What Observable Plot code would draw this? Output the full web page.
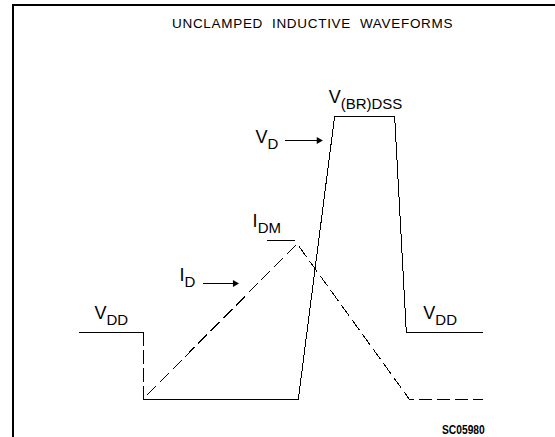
<!DOCTYPE html>
<html><head><meta charset="utf-8">
<script src="https://cdn.jsdelivr.net/npm/d3@7"></script>
<script src="https://cdn.jsdelivr.net/npm/@observablehq/plot@0.6"></script>
<style>
body{margin:0;background:#fff;}
#wrap{position:relative;width:555px;height:437px;overflow:hidden;font-family:"Liberation Sans",Arial,sans-serif;color:#000;}
#frame{position:absolute;left:12px;top:4px;width:700px;height:600px;border-top:2px solid #000;border-left:2px solid #000;}
#title{position:absolute;left:172px;top:16.8px;font-size:13.5px;line-height:13.5px;letter-spacing:0.7px;white-space:pre;}
#code{position:absolute;left:442px;top:424px;font-size:12.5px;line-height:12.5px;font-weight:bold;transform:scaleX(0.82);transform-origin:0 0;white-space:pre;}
#chart{position:absolute;left:0;top:0;}
</style>
</head><body>
<div id="wrap">
  <div id="frame"></div>
  <div id="chart"></div>
  <div id="title">UNCLAMPED  INDUCTIVE  WAVEFORMS</div>
  <div id="code">SC05980</div>
</div>
<script>
// V_D waveform (time in arbitrary units 0..100, level 0..100 = V(BR)DSS)
const vdTime  = [0, 15.9, 15.9, 54.3, 63.3, 78.2, 81.1, 100];
const vdLevel = [23.7, 23.7, 0, 0, 100, 100, 23.7, 23.7];
// I_D waveform (dashed)
const idTime  = [16.9, 54.0, 81.9, 100];
const idLevel = [1.8, 55.0, 0, 0];
// I_DM marker line
const idmLevel = [56.2];
const idmFrom = [46.65];
const idmTo = [53.6];
// labels
const labelMain  = ["V", "V", "V", "V", "I", "I"];
const labelSub   = ["DD", "DD", "D", "(BR)DSS", "DM", "D"];
const labelTime  = [6.7, 88.3, 46.65, 64.8, 44.2, 26.05];
const labelLevel = [28.6, 28.6, 90.5, 104.6, 61.1, 41.7];
// arrows
const arrowFrom  = [51.1, 30.8];
const arrowTo    = [60.0, 39.2];
const arrowLevel = [91.5, 41.0];

const vd = vdTime.map((t, i) => ({t, v: vdLevel[i]}));
const id = idTime.map((t, i) => ({t, v: idLevel[i]}));
const labels = labelMain.map((m, i) => ({main: m, sub: labelSub[i], t: labelTime[i], v: labelLevel[i]}));
const arrows = arrowFrom.map((a, i) => ({t1: a, t2: arrowTo[i], v: arrowLevel[i]}));
const idm = idmLevel.map((v, i) => ({v, t1: idmFrom[i], t2: idmTo[i]}));

const crisp = {stroke: "#000", strokeWidth: 1, shapeRendering: "crispEdges"};

const chart = Plot.plot({
  width: 555,
  height: 437,
  marginLeft: 79,
  marginRight: 73,
  marginTop: 116,
  marginBottom: 38,
  x: {domain: [0, 100], axis: null},
  y: {domain: [0, 100], axis: null},
  style: {fontFamily: "Liberation Sans, Arial, sans-serif", background: "transparent", color: "#000"},
  marks: [
    Plot.line(vd.slice(0, 2), {x: "t", y: "v", ...crisp}),
    Plot.line(vd.slice(1, 3), {x: "t", y: "v", ...crisp, strokeDasharray: "13,5"}),
    Plot.line(vd.slice(2), {x: "t", y: "v", ...crisp}),
    Plot.line(id, {x: "t", y: "v", ...crisp, strokeDasharray: "12,6"}),
    Plot.ruleY(idm, {y: "v", x1: "t1", x2: "t2", ...crisp}),
    Plot.ruleY(arrows, {y: "v", x1: "t1", x2: "t2", ...crisp}),
    Plot.dot(arrows, {x: "t2", y: "v", symbol: "triangle", rotate: 90, r: 2.6, dx: -2.5, fill: "#000", stroke: "none"}),
    Plot.text(labels, {x: "t", y: "v", text: "main", textAnchor: "end", lineAnchor: "bottom", fontSize: 18, fill: "#000"}),
    Plot.text(labels, {x: "t", y: "v", text: "sub", textAnchor: "start", lineAnchor: "bottom", fontSize: 15, dy: 6, fill: "#000"})
  ]
});
document.getElementById("chart").appendChild(chart);
</script>
</body></html>
